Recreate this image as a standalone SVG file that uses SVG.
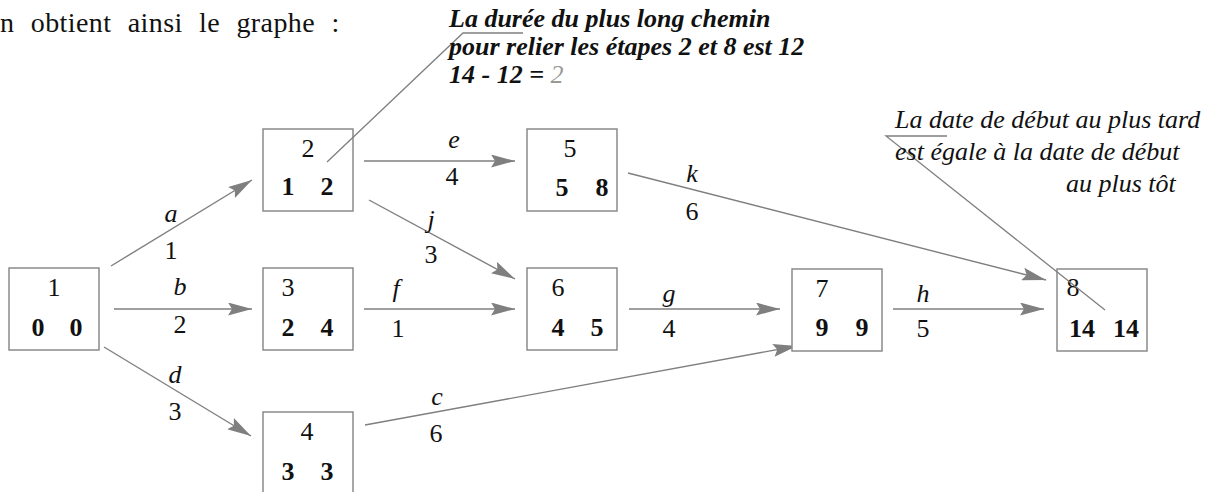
<svg xmlns="http://www.w3.org/2000/svg" width="1229" height="492" viewBox="0 0 1229 492">
<style>
.bg{fill:#fff}
.box{fill:#fff;stroke:#8a8a8a;stroke-width:1.5}
.edge{fill:none;stroke:#7f7f7f;stroke-width:1.4;marker-end:url(#ah)}
.lead{fill:none;stroke:#7f7f7f;stroke-width:1.3}
text{font-family:"Liberation Serif","Times New Roman",serif;fill:#111}
.n{font-size:26px;text-anchor:middle}
.nb{font-size:26px;font-weight:bold;text-anchor:middle}
.el{font-size:26px;text-anchor:middle}
.eli{font-size:26px;font-style:italic;text-anchor:middle}
.c1{font-size:26px;font-weight:bold;font-style:italic}
.c2{font-size:26px;font-style:italic}
.top{font-size:28px;word-spacing:9px;letter-spacing:0.4px}
</style>
<defs>
<marker id="ah" markerUnits="userSpaceOnUse" markerWidth="24" markerHeight="13" refX="24" refY="6.5" orient="auto" viewBox="0 0 24 13">
<path d="M0,0 L24,6.5 L0,13 L4,6.5 z" fill="#7f7f7f"/>
</marker>
</defs>
<rect class="bg" x="0" y="0" width="1229" height="492"/>
<text class="top" x="0" y="32">n obtient ainsi le graphe :</text>

<g id="connectors">
<line class="edge" x1="111" y1="266" x2="252" y2="180"/>
<line class="edge" x1="114" y1="309" x2="252" y2="309"/>
<line class="edge" x1="104" y1="347" x2="251" y2="436"/>
<line class="edge" x1="364" y1="161" x2="515" y2="161"/>
<line class="edge" x1="369" y1="200" x2="515" y2="279"/>
<line class="edge" x1="364" y1="309" x2="515" y2="309"/>
<line class="edge" x1="628" y1="173" x2="1046" y2="280"/>
<line class="edge" x1="629" y1="309" x2="780" y2="309"/>
<line class="edge" x1="893" y1="309" x2="1044" y2="309"/>
<line class="edge" x1="365" y1="425" x2="797" y2="346"/>
<text class="eli" x="171" y="222">a</text><text class="el" x="171" y="259">1</text>
<text class="eli" x="180" y="295">b</text><text class="el" x="180" y="333">2</text>
<text class="eli" x="175" y="383">d</text><text class="el" x="175" y="420">3</text>
<text class="eli" x="454" y="148">e</text><text class="el" x="452" y="185">4</text>
<text class="eli" x="431" y="228">j</text><text class="el" x="431" y="263">3</text>
<text class="eli" x="396" y="297">f</text><text class="el" x="398" y="337">1</text>
<text class="eli" x="692" y="182">k</text><text class="el" x="692" y="220">6</text>
<text class="eli" x="669" y="302">g</text><text class="el" x="669" y="337">4</text>
<text class="eli" x="923" y="302">h</text><text class="el" x="923" y="337">5</text>
<text class="eli" x="437" y="405">c</text><text class="el" x="436" y="442">6</text>
</g>

<g id="node1"><rect class="box" x="9" y="268" width="90" height="82"/><text class="n" x="54" y="296">1</text><text class="nb" x="38" y="336">0</text><text class="nb" x="76" y="336">0</text></g>
<g id="node2"><rect class="box" x="263" y="129" width="90" height="82"/><text class="n" x="308" y="157">2</text><text class="nb" x="288" y="195">1</text><text class="nb" x="327" y="195">2</text></g>
<g id="node3"><rect class="box" x="263" y="268" width="90" height="82"/><text class="n" x="288" y="296">3</text><text class="nb" x="288" y="336">2</text><text class="nb" x="327" y="336">4</text></g>
<g id="node4"><rect class="box" x="263" y="412" width="90" height="82"/><text class="n" x="307" y="440">4</text><text class="nb" x="288" y="480">3</text><text class="nb" x="327" y="480">3</text></g>
<g id="node5"><rect class="box" x="527" y="129" width="90" height="82"/><text class="n" x="570" y="157">5</text><text class="nb" x="562" y="196">5</text><text class="nb" x="602" y="196">8</text></g>
<g id="node6"><rect class="box" x="527" y="268" width="90" height="82"/><text class="n" x="558" y="296">6</text><text class="nb" x="558" y="336">4</text><text class="nb" x="597" y="336">5</text></g>
<g id="node7"><rect class="box" x="792" y="269" width="90" height="82"/><text class="n" x="822" y="297">7</text><text class="nb" x="822" y="336">9</text><text class="nb" x="862" y="336">9</text></g>
<g id="node8"><rect class="box" x="1057" y="269" width="90" height="82"/><text class="n" x="1073" y="296">8</text><text class="nb" x="1082" y="337">14</text><text class="nb" x="1126" y="337">14</text></g>

<g id="callout1">
<polyline class="lead" points="523,33 463,33 327,162"/>
<text class="c1" x="449" y="27">La durée du plus long chemin</text>
<text class="c1" x="449" y="55">pour relier les étapes 2 et 8 est 12</text>
<text class="c1" x="449" y="83">14 - 12 = <tspan fill="#999" font-weight="normal">2</tspan></text>
</g>
<g id="callout2">
<polyline class="lead" points="947,136 886,136 1105,310"/>
<text class="c2" x="895" y="128">La date de début au plus tard</text>
<text class="c2" x="895" y="160">est égale à la date de début</text>
<text class="c2" x="1066" y="192">au plus tôt</text>
</g>
</svg>
